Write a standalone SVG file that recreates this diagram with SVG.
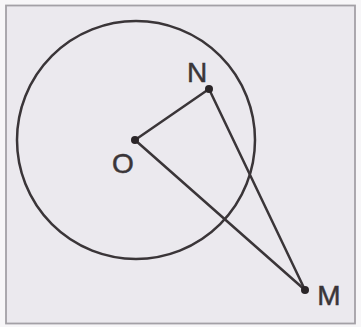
<svg xmlns="http://www.w3.org/2000/svg" width="361" height="327" viewBox="0 0 361 327">
<style>
.ln{stroke:#3a3538;stroke-width:2.5;fill:none;stroke-linecap:round}
.pt{fill:#2a2528}
.lb{font-family:"Liberation Sans",Arial,sans-serif;font-size:28px;fill:#3a3538;stroke:#3a3538;stroke-width:0.5}
</style>
<rect width="361" height="327" fill="#f7f6f8"/>
<rect id="frame" x="6" y="5.5" width="349" height="318" fill="#ebe9ee" stroke="#a3a0a6" stroke-width="1.8"/>
<g id="circle"><circle class="ln" cx="136" cy="140" r="119"/></g>
<g id="connectors">
<line class="ln" x1="135" y1="140" x2="209" y2="89"/>
<line class="ln" x1="135" y1="140" x2="305" y2="290"/>
<line class="ln" x1="209" y1="89" x2="305" y2="290"/>
</g>
<g id="O"><circle class="pt" cx="135" cy="140" r="4"/><text class="lb" x="123" y="173" text-anchor="middle">O</text></g>
<g id="N"><circle class="pt" cx="209" cy="89" r="4"/><text class="lb" x="197" y="82" text-anchor="middle">N</text></g>
<g id="M"><circle class="pt" cx="305" cy="290" r="4"/><text class="lb" x="329" y="305" text-anchor="middle">M</text></g>
</svg>
